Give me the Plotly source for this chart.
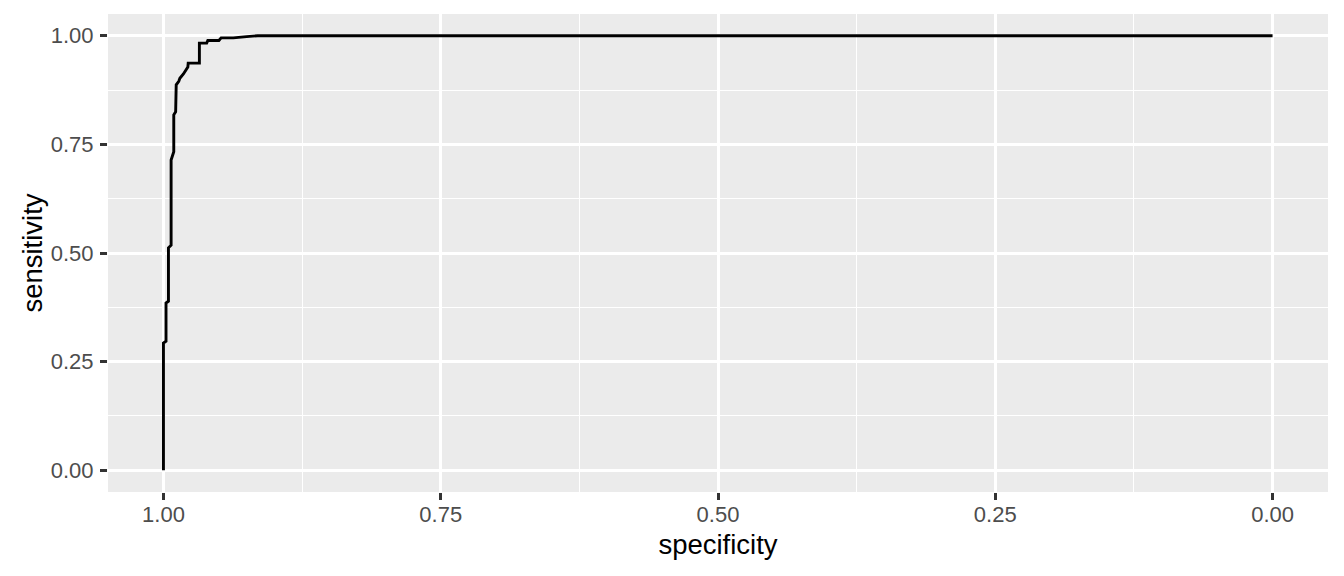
import plotly.graph_objects as go

specificity = [1.0, 1.0, 0.9977, 0.9977, 0.9955, 0.9955, 0.9931, 0.9931, 0.9907, 0.9907,
               0.9890, 0.9885, 0.9862, 0.9852, 0.9820, 0.9800, 0.9780, 0.9777, 0.9676,
               0.9676, 0.9610, 0.9600, 0.9500, 0.9480, 0.9370, 0.9250, 0.9150, 0.0]
sensitivity = [0.0, 0.293, 0.297, 0.385, 0.389, 0.512, 0.518, 0.714, 0.733, 0.818,
               0.825, 0.887, 0.895, 0.902, 0.912, 0.920, 0.928, 0.937, 0.937,
               0.983, 0.983, 0.989, 0.989, 0.995, 0.995, 0.998, 1.0, 1.0]

tick_vals = [0.0, 0.25, 0.5, 0.75, 1.0]
tick_text = ["0.00", "0.25", "0.50", "0.75", "1.00"]
minor_vals = [0.125, 0.375, 0.625, 0.875]

FONT = "Liberation Sans, Arial, sans-serif"

fig = go.Figure()
fig.add_trace(go.Scatter(x=specificity, y=sensitivity, mode="lines",
                         line=dict(color="black", width=2.9), showlegend=False))

axis_common = dict(
    showgrid=True, gridcolor="white", gridwidth=2.6,
    zeroline=False, showline=False, automargin=False,
    ticks="outside", ticklen=7, tickwidth=2.6, tickcolor="#333333",
    tickfont=dict(family=FONT, size=22, color="#4D4D4D"),
    tickvals=tick_vals, ticktext=tick_text,
    minor=dict(tickvals=minor_vals, showgrid=True,
               gridcolor="white", gridwidth=1.3, ticks=""),
    title_font=dict(family=FONT, size=27.5, color="black"),
)

fig.update_xaxes(range=[1.05, -0.05], title_text="specificity", title_standoff=8,
                 ticklabelstandoff=-4, **axis_common)
fig.update_yaxes(range=[-0.05, 1.05], title_text="sensitivity", title_standoff=0,
                 ticklabelstandoff=2, **axis_common)

fig.update_layout(
    width=1336, height=568,
    margin=dict(l=100, r=15.5, t=6, b=84.3, pad=0),
    plot_bgcolor="#EBEBEB", paper_bgcolor="white",
)

fig.write_html("out.html")
